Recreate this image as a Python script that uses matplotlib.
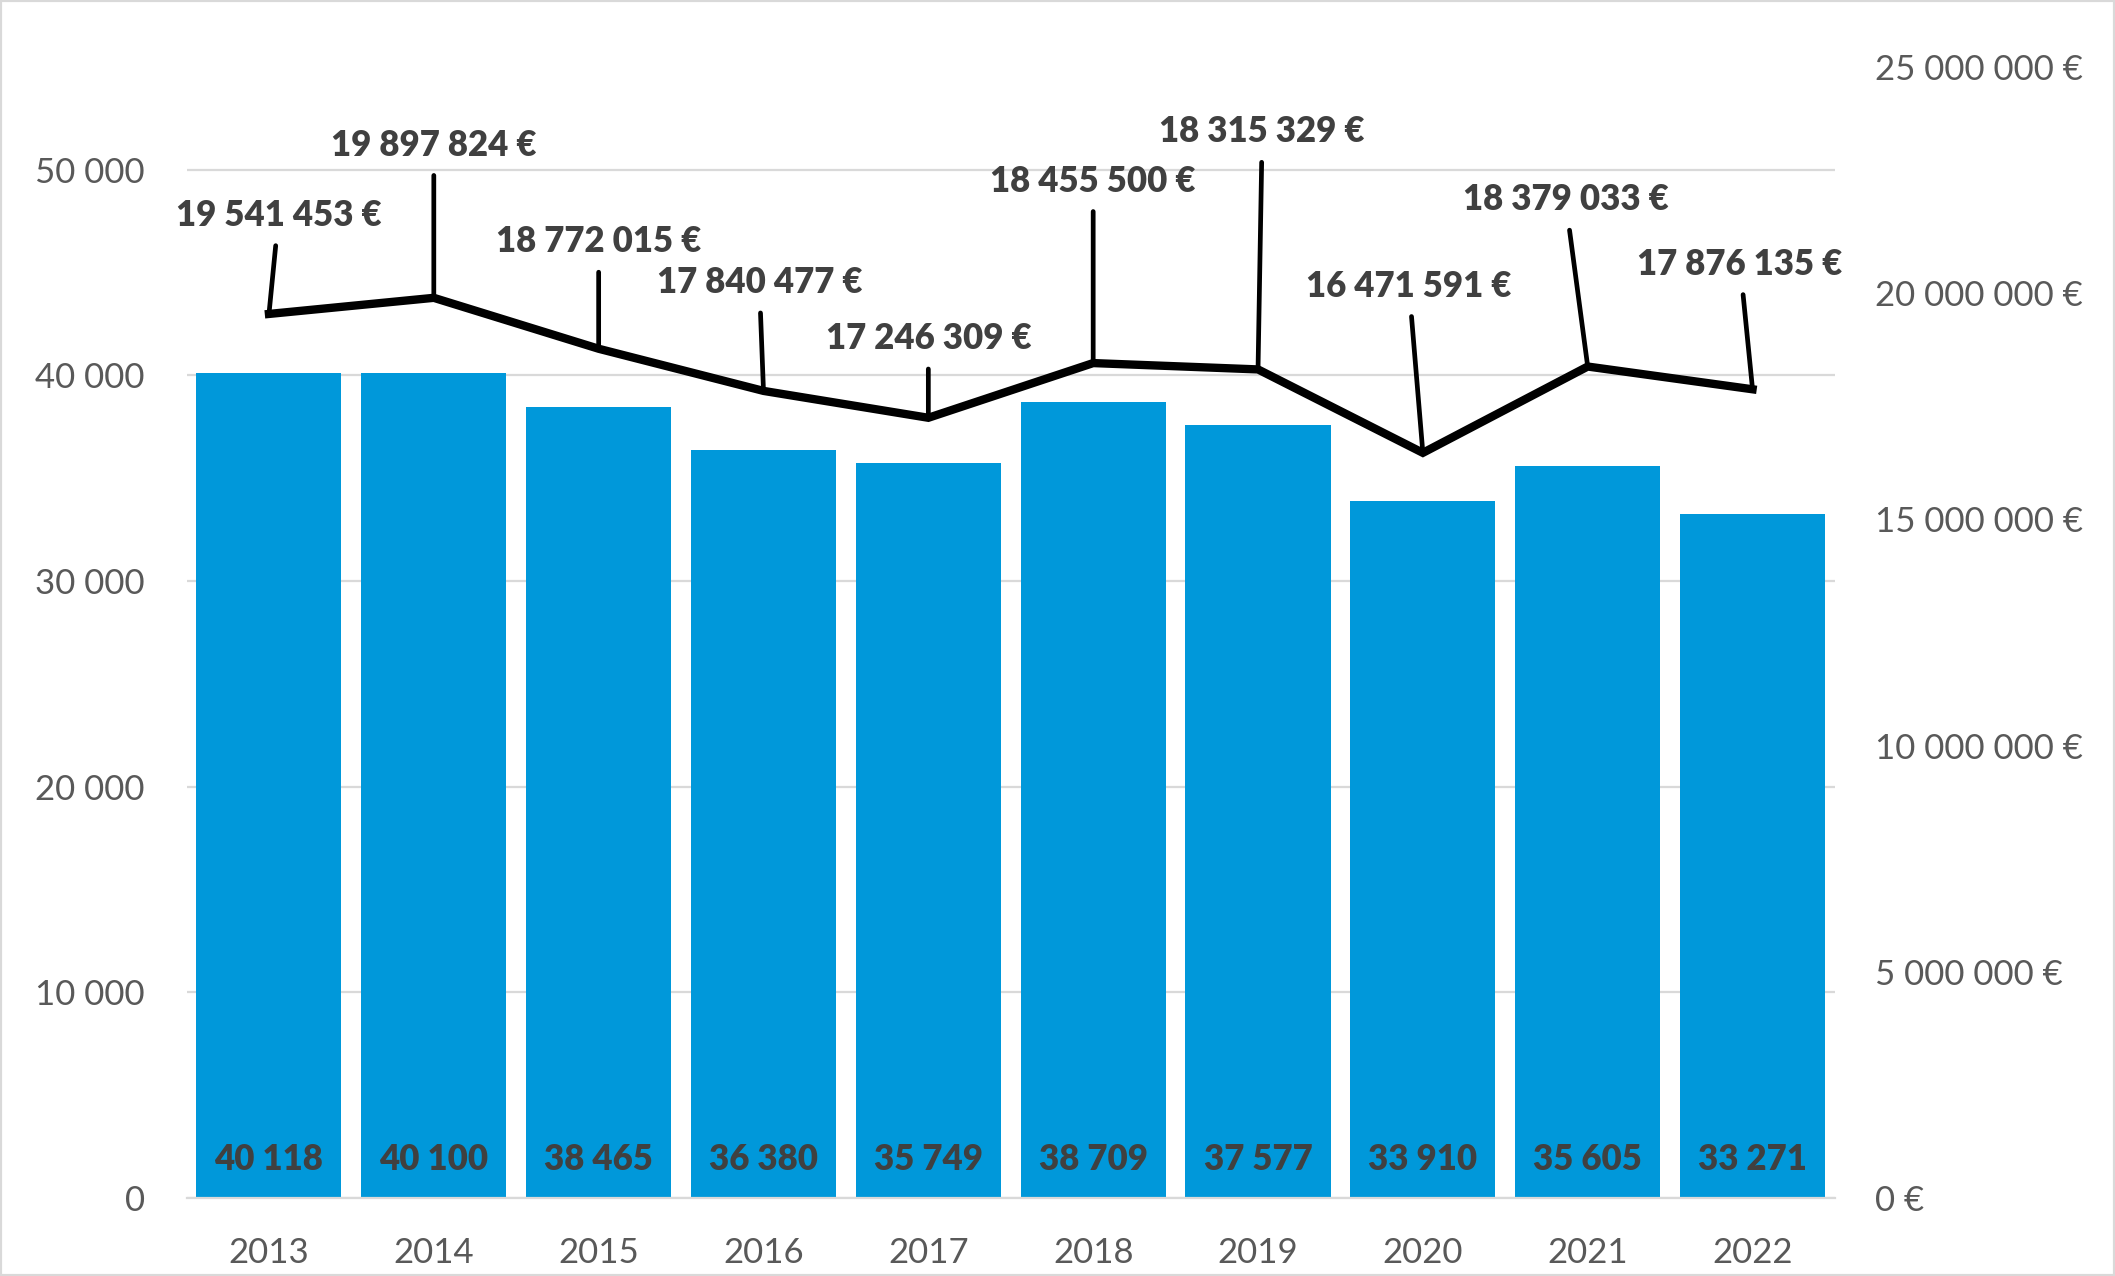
import matplotlib
matplotlib.use("Agg")
import matplotlib.pyplot as plt
from matplotlib.patches import Rectangle
from matplotlib.ticker import FuncFormatter, MultipleLocator

plt.rcParams['font.family'] = ['Lato', 'DejaVu Sans']

years = ['2013', '2014', '2015', '2016', '2017', '2018', '2019', '2020', '2021', '2022']
counts = [40118, 40100, 38465, 36380, 35749, 38709, 37577, 33910, 35605, 33271]
amounts = [19541453, 19897824, 18772015, 17840477, 17246309, 18455500, 18315329,
           16471591, 18379033, 17876135]

# label offsets (points) for the euro labels, relative to the line points
label_dx = [7, 0, 0, -3, 0, 0, 3, -10, -16, -9]
label_dy = [71, 110, 77, 78, 57, 131, 171, 120, 120, 90]

bar_color = '#0098DA'
grid_color = '#D9D9D9'
tick_color = '#595959'
label_color = '#404040'


def sp(v):
    return f"{v:,}".replace(",", " ")


fig = plt.figure(figsize=(21.15, 12.76), dpi=100)
ax = fig.add_axes([0.0882, 0.0611, 0.8676 - 0.0882, 0.9475 - 0.0611])
ax2 = ax.twinx()

x = list(range(len(years)))
ax.bar(x, counts, width=0.88, color=bar_color, zorder=2)
ax.set_xlim(-0.5, len(years) - 0.5)
ax.set_ylim(0, 55000)
ax.yaxis.set_major_locator(MultipleLocator(10000))
ax.yaxis.set_major_formatter(FuncFormatter(lambda v, p: sp(int(v))))
ax.set_xticks(x)
ax.set_xticklabels(years)
ax.set_axisbelow(True)
ax.yaxis.grid(color=grid_color, linewidth=1.6)
ax.tick_params(axis='y', length=0, pad=30, labelsize=25, labelcolor=tick_color)
ax.tick_params(axis='x', length=0, pad=28, labelsize=25, labelcolor=tick_color)
for s in ['top', 'right', 'left']:
    ax.spines[s].set_visible(False)
ax.spines['bottom'].set_color(grid_color)
ax.spines['bottom'].set_linewidth(1.6)

# bar labels near base
for xi, v in zip(x, counts):
    ax.annotate(sp(v), (xi, 0), xytext=(0, 28), textcoords='offset points',
                ha='center', va='center', fontsize=25, fontweight='heavy',
                color=label_color, zorder=3)

ax2.plot(x, amounts, color='black', linewidth=6, solid_joinstyle='miter', zorder=4)
ax2.set_ylim(0, 25000000)
ax2.yaxis.set_major_locator(MultipleLocator(5000000))
ax2.yaxis.set_major_formatter(FuncFormatter(lambda v, p: sp(int(v)) + " €"))
ax2.tick_params(axis='y', length=0, pad=29, labelsize=25, labelcolor=tick_color)
for s in ax2.spines.values():
    s.set_visible(False)

for xi, v, dx, dy in zip(x, amounts, label_dx, label_dy):
    ax2.annotate(sp(v) + " €", (xi, v), xytext=(dx, dy), textcoords='offset points',
                 ha='center', va='center', fontsize=25, fontweight='heavy',
                 color=label_color,
                 arrowprops=dict(arrowstyle='-', color='black', linewidth=3.4,
                                 shrinkA=8, shrinkB=0))

fig.patches.append(Rectangle((0, 0), 1, 1, transform=fig.transFigure, fill=False,
                             edgecolor=grid_color, linewidth=3))

fig.savefig('out.png', dpi=100)
